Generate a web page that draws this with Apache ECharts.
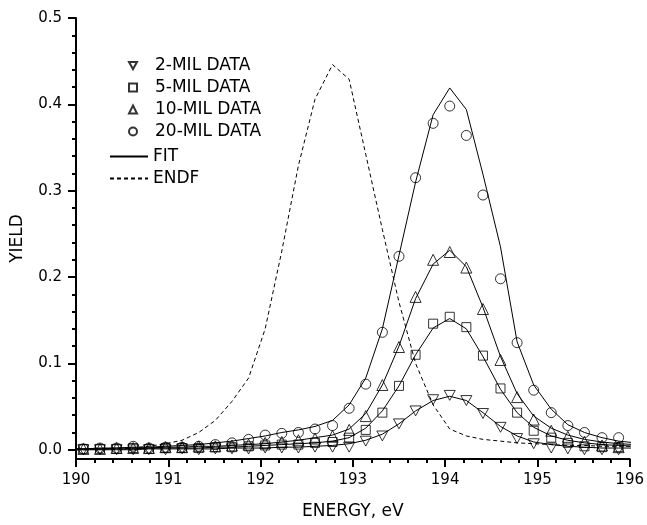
<!DOCTYPE html>
<html>
<head>
<meta charset="utf-8">
<script src="https://cdn.jsdelivr.net/npm/echarts@6/dist/echarts.min.js"></script>
<style>
html,body{margin:0;padding:0;background:#fff;}
#chart{width:647px;height:525px;}
</style>
</head>
<body>
<div id="chart"></div>
<script>
// ---- data ----
const energy = [190.08, 190.26, 190.44, 190.62, 190.79, 190.97, 191.15, 191.33, 191.51, 191.69, 191.87,
  192.05, 192.23, 192.41, 192.59, 192.78, 192.96, 193.14, 193.32, 193.50, 193.68, 193.87, 194.05,
  194.23, 194.41, 194.60, 194.78, 194.96, 195.15, 195.33, 195.51, 195.70, 195.88];

const mil2 = [0.000,0.000,0.000,0.000,0.000,0.000,0.001,0.000,0.001,0.001,0.001,0.002,0.002,0.002,0.003,0.003,
  0.003,0.010,0.016,0.030,0.045,0.058,0.063,0.057,0.042,0.026,0.013,0.007,0.002,0.001,0.000,0.000,0.000];
const mil5 = [0.001,0.001,0.001,0.002,0.001,0.002,0.002,0.002,0.003,0.003,0.004,0.005,0.006,0.006,0.008,0.009,
  0.014,0.023,0.043,0.074,0.110,0.146,0.154,0.142,0.109,0.071,0.043,0.022,0.014,0.008,0.004,0.003,0.003];
const mil10 = [0.001,0.001,0.002,0.002,0.002,0.003,0.003,0.004,0.004,0.005,0.006,0.008,0.009,0.011,0.013,0.016,
  0.023,0.039,0.075,0.119,0.177,0.220,0.229,0.211,0.163,0.104,0.061,0.035,0.022,0.015,0.009,0.005,0.003];
const mil20 = [0.001,0.002,0.002,0.004,0.002,0.003,0.003,0.004,0.006,0.008,0.012,0.017,0.019,0.020,0.024,0.028,
  0.048,0.076,0.136,0.224,0.315,0.378,0.398,0.364,0.295,0.198,0.124,0.069,0.043,0.028,0.020,0.014,0.014];

// fit / ENDF curves share the grid plus the two ends of the axis
const fitEnergy = [190.00].concat(energy, [196.07]);
const fit2 = [0.000, 0.000,0.000,0.000,0.000,0.001,0.001,0.001,0.001,0.001,0.002,0.002,0.002,0.003,0.003,0.004,0.005,
  0.007,0.011,0.018,0.030,0.045,0.057,0.062,0.057,0.043,0.027,0.016,0.009,0.006,0.004,0.003,0.002,0.002, 0.002];
const fit5 = [0.001, 0.001,0.001,0.001,0.001,0.002,0.002,0.002,0.002,0.003,0.003,0.004,0.005,0.006,0.007,0.008,0.010,
  0.014,0.025,0.045,0.074,0.110,0.141,0.152,0.140,0.108,0.070,0.043,0.026,0.016,0.011,0.008,0.006,0.005, 0.004];
const fit10 = [0.001, 0.001,0.001,0.002,0.002,0.002,0.003,0.003,0.004,0.004,0.005,0.006,0.007,0.009,0.011,0.014,0.017,
  0.024,0.042,0.075,0.120,0.175,0.215,0.231,0.212,0.165,0.108,0.065,0.039,0.025,0.017,0.012,0.009,0.007, 0.006];
const fit20 = [0.001, 0.001,0.002,0.002,0.003,0.003,0.004,0.005,0.006,0.008,0.010,0.013,0.016,0.020,0.023,0.027,0.034,
  0.052,0.083,0.140,0.225,0.310,0.388,0.419,0.394,0.319,0.235,0.125,0.075,0.047,0.029,0.020,0.014,0.010, 0.008];
const endf = [0.000, 0.000,0.001,0.001,0.002,0.004,0.007,0.011,0.020,0.034,0.056,0.083,0.140,0.230,0.329,0.406,0.446,
  0.429,0.342,0.255,0.171,0.100,0.052,0.024,0.016,0.012,0.010,0.008,0.007,0.006,0.005,0.005,0.004,0.004, 0.004];

const yTicks = [0, 0.1, 0.2, 0.3, 0.4, 0.5];
const yMinorTicks = [0.02,0.04,0.06,0.08,0.12,0.14,0.16,0.18,0.22,0.24,0.26,0.28,0.32,0.34,0.36,0.38,0.42,0.44,0.46,0.48];
const dataNames = ['2-MIL DATA', '5-MIL DATA', '10-MIL DATA', '20-MIL DATA'];
const lineNames = ['FIT', 'ENDF'];

// ---- chart ----
const FONT = 'DejaVu Sans';
const pairs = (xs, ys) => xs.map((x, i) => [x, ys[i]]);
const markerStyle = { color: 'rgba(0,0,0,0)', borderColor: '#000', borderWidth: 1 };

function scatter(name, data, symbol, size) {
  return { name, type: 'scatter', data: pairs(energy, data), symbol, symbolSize: size,
    symbolKeepAspect: true,
    itemStyle: markerStyle, clip: false, silent: true, z: 3 };
}
function line(name, data, dashed) {
  return { name, type: 'line', data: pairs(fitEnergy, data), symbol: 'none', showSymbol: false,
    lineStyle: { color: '#000', width: 1, type: dashed ? [4, 3] : 'solid' },
    itemStyle: { color: '#000' }, clip: false, silent: true, z: 2 };
}

const legendText = { fontFamily: FONT, fontSize: 17, color: '#000' };
const chart = echarts.init(document.getElementById('chart'), null, { renderer: 'canvas' });
chart.setOption({
  animation: false,
  backgroundColor: '#fff',
  grid: { left: 76, right: 16, top: 18, bottom: 64, containLabel: false },
  legend: [{
    data: dataNames, orient: 'vertical', left: 123, top: 52,
    itemWidth: 8, itemHeight: 8, itemGap: 5,
    textStyle: Object.assign({ padding: [0, 0, 0, 13] }, legendText), selectedMode: false
  }, {
    data: lineNames.map(n => ({ name: n, itemStyle: { color: 'rgba(0,0,0,0)', borderWidth: 0, opacity: 0 } })),
    orient: 'vertical', left: 104, top: 143,
    itemWidth: 38, itemHeight: 8, itemGap: 5,
    textStyle: legendText, selectedMode: false
  }],
  xAxis: {
    type: 'value', min: 190, max: 196, interval: 1,
    name: 'ENERGY, eV', nameLocation: 'middle', nameGap: 44,
    nameTextStyle: { fontFamily: FONT, fontSize: 17, color: '#000' },
    axisLine: { show: true, onZero: false, lineStyle: { color: '#000', width: 2 } },
    axisTick: { show: true, length: 8, lineStyle: { color: '#000', width: 2 } },
    minorTick: { show: true, splitNumber: 5, length: 4, lineStyle: { color: '#000', width: 2 } },
    axisLabel: { fontFamily: FONT, fontSize: 15, color: '#000', margin: 14 },
    splitLine: { show: false }
  },
  yAxis: [{
    type: 'value', min: -0.0107, max: 0.5,
    name: 'YIELD', nameLocation: 'middle', nameGap: 50, nameRotate: 90,
    nameTextStyle: { fontFamily: FONT, fontSize: 17, color: '#000' },
    axisLine: { show: true, onZero: false, lineStyle: { color: '#000', width: 2 } },
    axisTick: { show: true, length: 8, customValues: yTicks, lineStyle: { color: '#000', width: 2 } },
    axisLabel: { customValues: yTicks, fontFamily: FONT, fontSize: 15, color: '#000', margin: 14,
      formatter: v => v.toFixed(1) },
    splitLine: { show: false }
  }, {
    type: 'value', min: -0.0107, max: 0.5, position: 'left', offset: 0,
    axisLine: { show: false },
    axisTick: { show: true, length: 4, customValues: yMinorTicks, lineStyle: { color: '#000', width: 2 } },
    axisLabel: { show: false },
    splitLine: { show: false }
  }],
  series: [
    line('ENDF', endf, true),
    line('FIT', fit2, false),
    line('FIT', fit5, false),
    line('FIT', fit10, false),
    line('FIT', fit20, false),
    scatter('2-MIL DATA', mil2, 'path://M0,0 L10,0 L5,9 Z', 11),
    scatter('5-MIL DATA', mil5, 'rect', 9),
    scatter('10-MIL DATA', mil10, 'triangle', 11),
    scatter('20-MIL DATA', mil20, 'circle', 10)
  ]
});
</script>
</body>
</html>
